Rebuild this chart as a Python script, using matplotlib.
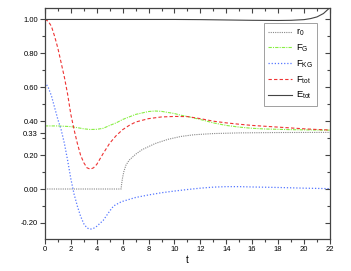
import numpy as np
import matplotlib
matplotlib.use("Agg")
from matplotlib import pyplot as plt
from matplotlib.ticker import MultipleLocator, FixedLocator

plt.rcParams['font.family'] = ['Liberation Sans', 'DejaVu Sans']
plt.rcParams['mathtext.fontset'] = 'custom'
plt.rcParams['mathtext.rm'] = 'Liberation Sans'
plt.rcParams['mathtext.it'] = 'Liberation Sans:italic'

# values
t_r0 = [0, 5.88, 5.92, 6.0, 6.1, 6.25, 6.5, 7.0, 7.5, 8.5, 9.5, 10.5, 11.5, 13, 15, 18, 22]
r0 = [0, 0.0, 0.03, 0.07, 0.105, 0.14, 0.17, 0.205, 0.232, 0.268, 0.293, 0.31, 0.32, 0.327, 0.331, 0.333, 0.334]

t_fg = [0, 1, 2, 2.5, 3, 3.5, 4, 4.5, 5, 5.5, 6, 7, 8, 8.5, 9, 10, 10.5, 11, 12, 13, 14, 15, 16, 17, 18, 19, 20, 21, 22]
f_g = [0.372, 0.372, 0.368, 0.362, 0.355, 0.351, 0.352, 0.358, 0.375, 0.39, 0.41, 0.44, 0.457, 0.46, 0.458,
       0.445, 0.435, 0.428, 0.41, 0.39, 0.375, 0.365, 0.358, 0.354, 0.352, 0.35, 0.349, 0.348, 0.347]

t_fkg = [0, 0.25, 0.5, 0.75, 1.0, 1.25, 1.5, 1.75, 2.0, 2.25, 2.5, 2.75, 3.0, 3.25, 3.5, 3.75, 4.0, 4.5,
         5.0, 5.3, 5.9, 7, 8, 9, 10, 11, 12, 13, 14, 15, 16, 18, 20, 22]
f_kg = [0.63, 0.60, 0.55, 0.48, 0.41, 0.35, 0.27, 0.17, 0.06, -0.03, -0.10, -0.16, -0.205, -0.23, -0.237,
        -0.232, -0.22, -0.185, -0.13, -0.10, -0.075, -0.05, -0.035, -0.022, -0.012, -0.003, 0.005, 0.011,
        0.014, 0.014, 0.012, 0.009, 0.005, 0.002]

t_ftot = [0, 0.25, 0.5, 0.75, 1.0, 1.25, 1.5, 1.75, 2.0, 2.25, 2.5, 2.75, 3.0, 3.25, 3.5, 3.75, 4.0, 4.5,
          5.0, 5.5, 6.0, 6.5, 7.0, 8.0, 9.0, 10.0, 11.0, 12.0, 13.0, 14.0, 15.0, 16.0, 17, 18.0, 19, 20.0, 21, 22.0]
f_tot = [1.0, 0.99, 0.96, 0.90, 0.83, 0.745, 0.66, 0.56, 0.44, 0.35, 0.27, 0.20, 0.155, 0.125, 0.117, 0.125,
         0.145, 0.21, 0.27, 0.315, 0.35, 0.375, 0.395, 0.415, 0.425, 0.428, 0.427, 0.415, 0.40, 0.39, 0.382,
         0.375, 0.37, 0.365, 0.36, 0.355, 0.351, 0.348]

t_etot = [0, 10, 12, 14, 16, 18, 19, 20, 20.5, 21, 21.5, 22]
e_tot = [1.0, 1.0, 0.999, 0.997, 0.995, 0.994, 0.995, 0.999, 1.005, 1.015, 1.035, 1.07]

y_major = [-0.2, 0.0, 0.2, 0.33, 0.4, 0.6, 0.8, 1.0]
y_labels = ['-0.20', '0.00', '0.20', '0.33', '0.40', '0.60', '0.80', '1.00']

fig = plt.figure(figsize=(3.51, 2.71), dpi=100)
ax = fig.add_axes([0.128, 0.118, 0.812, 0.854])

ax.plot(t_r0, r0, color='#888888', ls=(0, (1, 1)), lw=0.8, label=r'$\mathrm{r_0}$')
ax.plot(t_fg, f_g, color='#88ee44', ls=(0, (3, 1, 1, 1)), lw=0.8, label=r'$\mathrm{F_G}$')
ax.plot(t_fkg, f_kg, color='#5577ff', ls=(0, (1, 1.5)), lw=0.9, label=r'$\mathrm{F_{KG}}$')
ax.plot(t_ftot, f_tot, color='#ee3333', ls=(0, (3, 2)), lw=0.8, label=r'$\mathrm{F_{tot}}$')
ax.plot(t_etot, e_tot, color='#444444', ls='-', lw=0.8, label=r'$\mathrm{E_{tot}}$')

ax.set_xlim(0, 22)
ax.set_ylim(-0.295, 1.07)
ax.xaxis.set_major_locator(MultipleLocator(2))
ax.xaxis.set_minor_locator(MultipleLocator(1))
ax.yaxis.set_major_locator(FixedLocator(y_major))
ax.set_yticklabels(y_labels)
ax.yaxis.set_minor_locator(FixedLocator([-0.1, 0.1, 0.3, 0.5, 0.7, 0.9]))
ax.tick_params(which='both', direction='out', labelsize=5.5, color='#444444', width=0.8, pad=1.5)
ax.tick_params(which='major', length=3.5)
ax.tick_params(which='minor', length=2)
for s in ax.spines.values():
    s.set_color('#444444')
    s.set_linewidth(0.9)

# mirrored axes on top and right, ticks pointing in
ax2 = ax.twinx()
ax2.set_ylim(ax.get_ylim())
ax2.yaxis.set_major_locator(MultipleLocator(0.2))
ax2.yaxis.set_minor_locator(MultipleLocator(0.1))
ax2.tick_params(which='both', direction='in', labelright=False, color='#444444', width=0.8)
ax2.tick_params(which='major', length=3.5)
ax2.tick_params(which='minor', length=2)
ax3 = ax.twiny()
ax3.set_xlim(ax.get_xlim())
ax3.xaxis.set_major_locator(MultipleLocator(2))
ax3.xaxis.set_minor_locator(MultipleLocator(1))
ax3.tick_params(which='both', direction='in', labeltop=False, color='#444444', width=0.8)
ax3.tick_params(which='major', length=3.5)
ax3.tick_params(which='minor', length=2)
for a in (ax2, ax3):
    a.set_frame_on(False)

ax.set_xlabel('t', fontsize=7, labelpad=1.5)

leg = ax.legend(loc='upper right', bbox_to_anchor=(0.955, 0.935), fontsize=6.8, frameon=True,
                fancybox=False, handlelength=2.5, handletextpad=0.4, labelspacing=0.45,
                borderpad=0.45, borderaxespad=0)
leg.get_frame().set_edgecolor('#888888')
leg.get_frame().set_linewidth(0.7)

fig.savefig('out.png', dpi=100)
